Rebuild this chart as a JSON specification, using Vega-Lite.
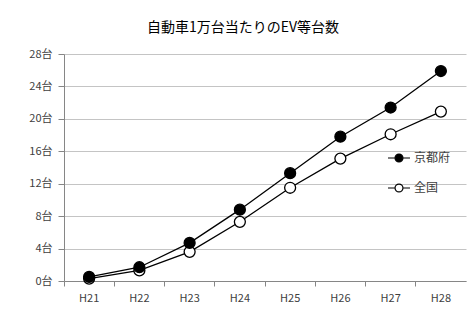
{
  "$schema": "https://vega.github.io/schema/vega-lite/v6.json",
  "width": 402,
  "height": 227,
  "autosize": {"type": "none"},
  "padding": {"left": 64, "top": 54, "right": 7, "bottom": 37},
  "background": "white",
  "title": {
    "text": "自動車1万台当たりのEV等台数",
    "font": "Noto Sans CJK JP",
    "fontSize": 14,
    "fontWeight": "normal",
    "color": "#000000",
    "anchor": "middle",
    "offset": 13,
    "dx": -22
  },
  "data": {
    "values": [
      {"year": "H21", "series": "全国", "value": 0.3},
      {"year": "H22", "series": "全国", "value": 1.3},
      {"year": "H23", "series": "全国", "value": 3.6},
      {"year": "H24", "series": "全国", "value": 7.3},
      {"year": "H25", "series": "全国", "value": 11.5},
      {"year": "H26", "series": "全国", "value": 15.1},
      {"year": "H27", "series": "全国", "value": 18.1},
      {"year": "H28", "series": "全国", "value": 20.9},
      {"year": "H21", "series": "京都府", "value": 0.5},
      {"year": "H22", "series": "京都府", "value": 1.7},
      {"year": "H23", "series": "京都府", "value": 4.7},
      {"year": "H24", "series": "京都府", "value": 8.8},
      {"year": "H25", "series": "京都府", "value": 13.3},
      {"year": "H26", "series": "京都府", "value": 17.8},
      {"year": "H27", "series": "京都府", "value": 21.4},
      {"year": "H28", "series": "京都府", "value": 25.9}
    ]
  },
  "encoding": {
    "x": {
      "field": "year",
      "type": "ordinal",
      "sort": null,
      "scale": {"type": "band", "paddingInner": 0, "paddingOuter": 0},
      "axis": {
        "title": null,
        "grid": false,
        "bandPosition": 0,
        "labelAngle": 0,
        "labelFont": "Noto Sans CJK JP",
        "labelFontSize": 11,
        "labelColor": "#404040",
        "labelPadding": 6,
        "domainColor": "#868686",
        "tickColor": "#868686",
        "tickSize": 5
      }
    },
    "y": {
      "field": "value",
      "type": "quantitative",
      "scale": {"domain": [0, 28]},
      "axis": {
        "title": null,
        "values": [0, 4, 8, 12, 16, 20, 24, 28],
        "labelExpr": "datum.value + '台'",
        "labelFont": "Noto Sans CJK JP",
        "labelFontSize": 11,
        "labelColor": "#404040",
        "labelPadding": 6,
        "domainColor": "#868686",
        "tickColor": "#868686",
        "tickSize": 6,
        "gridColor": "#c4c4c4"
      }
    }
  },
  "layer": [
    {
      "mark": {"type": "line", "color": "black", "strokeWidth": 1.3},
      "encoding": {"detail": {"field": "series", "type": "nominal"}}
    },
    {
      "mark": {"type": "point", "shape": "circle", "filled": true, "size": 120, "stroke": "black", "strokeWidth": 1.3, "opacity": 1},
      "encoding": {
        "fill": {
          "field": "series",
          "type": "nominal",
          "scale": {"domain": ["京都府", "全国"], "range": ["black", "white"]},
          "legend": {
            "title": null,
            "orient": "none",
            "legendX": 323,
            "legendY": 92,
            "symbolType": "M-1,0H-0.36M0.36,0H1M-0.36,0A0.36,0.36,0,1,1,0.36,0A0.36,0.36,0,1,1,-0.36,0Z",
            "symbolSize": 484,
            "symbolStrokeColor": "black",
            "symbolStrokeWidth": 1.2,
            "rowPadding": 11,
            "labelFont": "Noto Sans CJK JP",
            "labelFontSize": 12,
            "labelColor": "#404040",
            "labelOffset": 3,
            "padding": 0
          }
        }
      }
    }
  ],
  "config": {"view": {"stroke": null}}
}
